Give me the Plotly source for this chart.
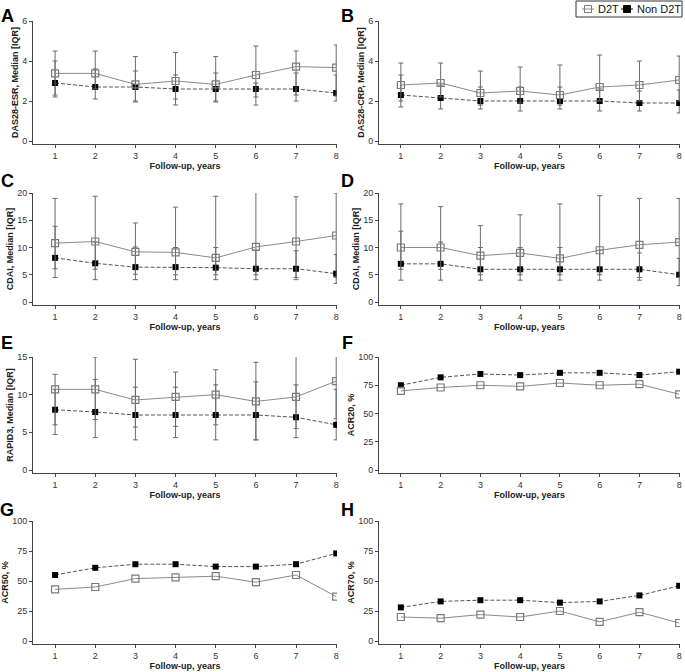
import plotly.graph_objects as go

years = [1, 2, 3, 4, 5, 6, 7, 8]

# A: DAS28-ESR
das_esr_d2t = [3.38, 3.38, 2.83, 3.0, 2.83, 3.3, 3.72, 3.67]
das_esr_d2t_q1 = [2.3, 2.6, 2.0, 2.1, 2.0, 2.2, 2.3, 2.25]
das_esr_d2t_q3 = [4.5, 4.5, 4.22, 4.42, 4.22, 4.75, 4.5, 4.8]
das_esr_non = [2.9, 2.7, 2.7, 2.6, 2.6, 2.6, 2.6, 2.4]
das_esr_non_q1 = [2.2, 2.1, 1.95, 1.8, 1.95, 1.8, 2.0, 2.0]
das_esr_non_q3 = [4.0, 3.6, 3.5, 3.3, 3.4, 2.9, 3.4, 3.3]

# B: DAS28-CRP
das_crp_d2t = [2.8, 2.9, 2.4, 2.5, 2.3, 2.7, 2.8, 3.05]
das_crp_d2t_q1 = [2.0, 2.2, 1.8, 1.9, 1.8, 2.0, 2.0, 2.0]
das_crp_d2t_q3 = [3.9, 3.9, 3.5, 3.7, 3.8, 4.3, 4.0, 4.25]
das_crp_non = [2.3, 2.15, 2.0, 2.0, 2.0, 2.0, 1.9, 1.9]
das_crp_non_q1 = [1.7, 1.6, 1.6, 1.5, 1.6, 1.5, 1.5, 1.4]
das_crp_non_q3 = [3.3, 2.8, 2.7, 2.7, 2.7, 2.6, 2.5, 2.55]

# C: CDAI
cdai_c_d2t = [10.8, 11.1, 9.2, 9.1, 8.1, 10.1, 11.1, 12.2]
cdai_c_d2t_q1 = [6.1, 6.0, 5.1, 5.0, 5.0, 5.0, 4.5, 4.5]
cdai_c_d2t_q3 = [19.0, 19.4, 14.5, 17.4, 19.4, 20.5, 19.3, 20.0]
cdai_c_non = [8.1, 7.1, 6.4, 6.4, 6.3, 6.1, 6.1, 5.2]
cdai_c_non_q1 = [4.5, 4.1, 4.1, 4.1, 4.1, 4.1, 4.1, 3.4]
cdai_c_non_q3 = [13.9, 11.0, 10.1, 10.0, 10.0, 9.5, 9.4, 8.7]

# D: CDAI
cdai_d_d2t = [10.0, 10.0, 8.5, 9.0, 8.0, 9.5, 10.5, 11.0]
cdai_d_d2t_q1 = [6.0, 6.0, 5.0, 5.0, 5.0, 5.0, 4.5, 4.5]
cdai_d_d2t_q3 = [18.0, 17.5, 14.0, 16.0, 18.0, 19.5, 19.0, 19.0]
cdai_d_non = [7.0, 7.0, 6.0, 6.0, 6.0, 6.0, 6.0, 5.0]
cdai_d_non_q1 = [4.0, 4.0, 4.0, 4.0, 4.0, 4.0, 4.0, 3.0]
cdai_d_non_q3 = [13.0, 11.0, 10.0, 10.0, 10.0, 9.5, 9.0, 8.0]

# E: RAPID3
rapid3_d2t = [10.7, 10.7, 9.3, 9.7, 10.0, 9.1, 9.7, 11.8]
rapid3_d2t_q1 = [6.0, 6.7, 5.7, 5.8, 6.0, 4.0, 5.5, 6.8]
rapid3_d2t_q3 = [12.7, 15.0, 14.7, 13.0, 13.3, 14.3, 15.9, 15.4]
rapid3_non = [8.0, 7.7, 7.3, 7.3, 7.3, 7.3, 7.0, 6.0]
rapid3_non_q1 = [4.7, 4.3, 4.0, 4.3, 4.0, 4.0, 4.3, 4.0]
rapid3_non_q3 = [10.7, 12.0, 11.0, 11.0, 11.3, 11.7, 11.3, 10.7]

# F-H: ACR response rates (%)
acr20_d2t = [70, 73, 75, 74, 77, 75, 76, 67]
acr20_non = [75, 82, 85, 84, 86, 86, 84, 87]
acr50_d2t = [43, 45, 52, 53, 54, 49, 55, 37]
acr50_non = [55, 61, 64, 64, 62, 62, 64, 73]
acr70_d2t = [20, 19, 22, 20, 25, 16, 24, 15]
acr70_non = [28, 33, 34, 34, 32, 33, 38, 46]

series_names = ["D2T", "Non D2T"]

W, H = 685, 672
FONT = "Arial, Liberation Sans, sans-serif"

panels = [
    dict(letter="A", ytitle="DAS28-ESR, Median [IQR]", d2t=das_esr_d2t, d2t_q=(das_esr_d2t_q1, das_esr_d2t_q3),
         non=das_esr_non, non_q=(das_esr_non_q1, das_esr_non_q3), yt=[0, 2, 4, 6], ymax=6),
    dict(letter="B", ytitle="DAS28-CRP, Median [IQR]", d2t=das_crp_d2t, d2t_q=(das_crp_d2t_q1, das_crp_d2t_q3),
         non=das_crp_non, non_q=(das_crp_non_q1, das_crp_non_q3), yt=[0, 2, 4, 6], ymax=6),
    dict(letter="C", ytitle="CDAI, Median [IQR]", d2t=cdai_c_d2t, d2t_q=(cdai_c_d2t_q1, cdai_c_d2t_q3),
         non=cdai_c_non, non_q=(cdai_c_non_q1, cdai_c_non_q3), yt=[0, 5, 10, 15, 20], ymax=20),
    dict(letter="D", ytitle="CDAI, Median [IQR]", d2t=cdai_d_d2t, d2t_q=(cdai_d_d2t_q1, cdai_d_d2t_q3),
         non=cdai_d_non, non_q=(cdai_d_non_q1, cdai_d_non_q3), yt=[0, 5, 10, 15, 20], ymax=20),
    dict(letter="E", ytitle="RAPID3, Median [IQR]", d2t=rapid3_d2t, d2t_q=(rapid3_d2t_q1, rapid3_d2t_q3),
         non=rapid3_non, non_q=(rapid3_non_q1, rapid3_non_q3), yt=[0, 5, 10, 15], ymax=15),
    dict(letter="F", ytitle="ACR20, %", d2t=acr20_d2t, d2t_q=None, non=acr20_non, non_q=None,
         yt=[0, 25, 50, 75, 100], ymax=100),
    dict(letter="G", ytitle="ACR50, %", d2t=acr50_d2t, d2t_q=None, non=acr50_non, non_q=None,
         yt=[0, 25, 50, 75, 100], ymax=100),
    dict(letter="H", ytitle="ACR70, %", d2t=acr70_d2t, d2t_q=None, non=acr70_non, non_q=None,
         yt=[0, 25, 50, 75, 100], ymax=100),
]

# pixel geometry of plot areas: (top, bottom) per row, (left, right) per column
rows_px = [(21, 144), (193, 305), (357, 473), (521, 644)]
cols_px = [(33, 337), (379, 680)]
letter_y_px = [16, 181, 343, 510]
letter_x_px = [7, 348]

D2T_LINE = "#8a8a8a"
D2T_MARK = "#7a7a7a"
NON_LINE = "#555555"
ERR_COL = "#6a6a6a"

fig = go.Figure()


def err(m, q):
    if q is None:
        return None
    q1, q3 = q
    return dict(type="data", symmetric=False,
                array=[b - a for a, b in zip(m, q3)],
                arrayminus=[a - b for a, b in zip(m, q1)],
                color=ERR_COL, thickness=1, width=2.5)


for i, p in enumerate(panels):
    n = i + 1
    r, c = i // 2, i % 2
    top, bot = rows_px[r]
    left, right = cols_px[c]
    xa = "x" if n == 1 else f"x{n}"
    ya = "y" if n == 1 else f"y{n}"

    fig.add_trace(go.Scatter(
        x=years, y=p["non"], name=series_names[1], mode="lines+markers",
        line=dict(color=NON_LINE, width=1, dash="4px,2px"),
        marker=dict(symbol="square", size=6, color="#000000"),
        error_y=err(p["non"], p["non_q"]),
        showlegend=False, xaxis=xa, yaxis=ya))
    fig.add_trace(go.Scatter(
        x=years, y=p["d2t"], name=series_names[0], mode="lines+markers",
        line=dict(color=D2T_LINE, width=1),
        marker=dict(symbol="square-open", size=7, color=D2T_MARK, line=dict(width=1.2)),
        error_y=err(p["d2t"], p["d2t_q"]),
        showlegend=False, xaxis=xa, yaxis=ya))

    pad = p["ymax"] * 3.0 / (bot - top - 3)
    suffix = "" if n == 1 else str(n)
    fig.layout[f"xaxis{suffix}"] = dict(
        domain=[left / W, right / W], anchor=ya, range=[0.45, 8.02],
        tickvals=years, ticks="outside", ticklen=3, tickcolor="#444",
        showline=True, linecolor="#444", linewidth=1, showgrid=False, zeroline=False,
        automargin=False,
        tickfont=dict(family=FONT, size=9, color="#333"),
        title=dict(text="<b>Follow-up, years</b>", font=dict(family=FONT, size=9, color="#222"), standoff=2),
    )
    fig.layout[f"yaxis{suffix}"] = dict(
        domain=[1 - bot / H, 1 - top / H], anchor=xa, range=[-pad, p["ymax"]],
        tickvals=p["yt"], ticks="outside", ticklen=3, tickcolor="#444",
        showline=True, linecolor="#444", linewidth=1, showgrid=False, zeroline=False,
        automargin=False,
        tickfont=dict(family=FONT, size=9, color="#333"),
        title=dict(text=f"<b>{p['ytitle']}</b>", font=dict(family=FONT, size=9, color="#222"), standoff=2),
    )
    fig.add_annotation(text=f"<b>{p['letter']}</b>", xref="paper", yref="paper",
                       x=letter_x_px[c] / W, y=1 - letter_y_px[r] / H,
                       xanchor="center", yanchor="middle", showarrow=False,
                       font=dict(family=FONT, size=18, color="#000"))

# manual legend box (top right)
lx0, lx1, ly0, ly1 = 576, 682, 1, 17
fig.add_shape(type="rect", xref="paper", yref="paper",
              x0=lx0 / W, x1=lx1 / W, y0=1 - ly1 / H, y1=1 - ly0 / H,
              line=dict(color="#333", width=1), fillcolor="white")
ymid = 1 - 9 / H
for sx, name, col, filled in [(588, series_names[0], D2T_MARK, False), (627, series_names[1], "#000", True)]:
    fig.add_shape(type="rect", xref="paper", yref="paper",
                  x0=(sx - 3.5) / W, x1=(sx + 3.5) / W, y0=ymid - 3.5 / H, y1=ymid + 3.5 / H,
                  line=dict(color=col, width=1), fillcolor=col if filled else "rgba(0,0,0,0)")
    fig.add_shape(type="line", xref="paper", yref="paper",
                  x0=(sx - 6) / W, x1=(sx + 6) / W, y0=ymid, y1=ymid,
                  line=dict(color=col if filled else D2T_LINE, width=1))
    fig.add_annotation(text=name, xref="paper", yref="paper", x=(sx + 8) / W, y=ymid,
                       xanchor="left", yanchor="middle", showarrow=False,
                       font=dict(family=FONT, size=11, color="#111"))

fig.update_layout(
    template="none",
    width=W, height=H, margin=dict(l=0, r=0, t=0, b=0, autoexpand=False),
    paper_bgcolor="white", plot_bgcolor="white",
    font=dict(family=FONT, size=10, color="#222"),
    showlegend=False,
)

fig.write_html("out.html",
               config={"displayModeBar": False},
               post_script="document.body.style.margin='0px';document.body.style.overflow='hidden';")
